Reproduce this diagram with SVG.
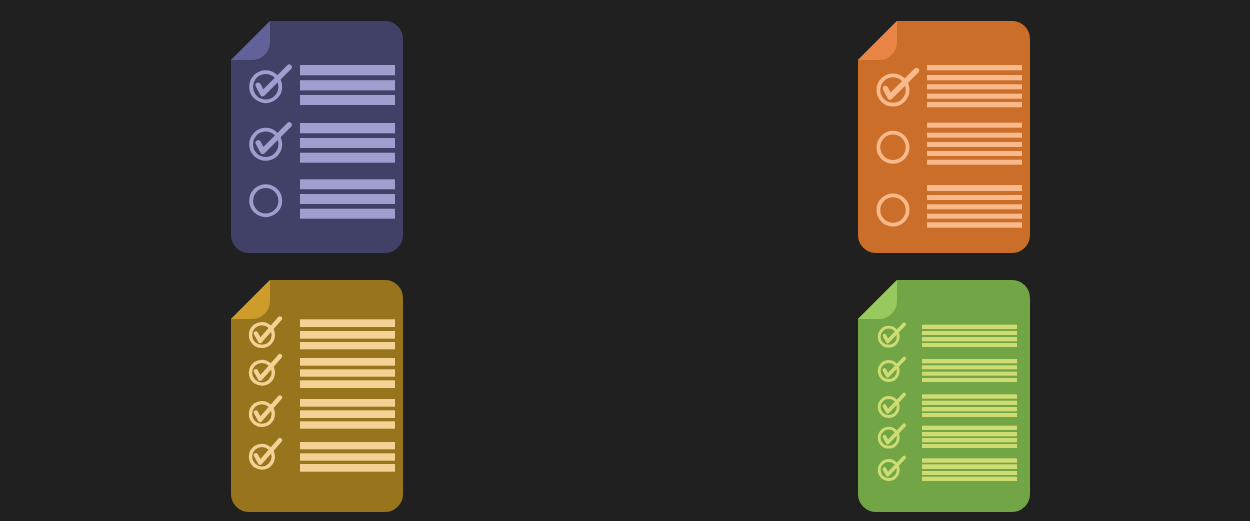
<svg xmlns="http://www.w3.org/2000/svg" width="1250" height="521" viewBox="0 0 1250 521">
<style>
.ring{fill:none;stroke-width:3.8}
.tick{fill:none;stroke-width:5.4;stroke-linecap:round;stroke-linejoin:round}
.p .page{fill:#414066}.p .fold{fill:#62619a}.p .bars{fill:#a09dcf}.p .ring,.p .tick{stroke:#a09dcf}
.o .page{fill:#cb6e29}.o .fold{fill:#e98544}.o .bars{fill:#f9b98a}.o .ring,.o .tick{stroke:#f9b98a}
.y .page{fill:#98751d}.y .fold{fill:#cd9c2a}.y .bars{fill:#f4d295}.y .ring,.y .tick{stroke:#f4d295}
.g .page{fill:#72a545}.g .fold{fill:#98c95f}.g .bars{fill:#cfdc74}.g .ring,.g .tick{stroke:#cfdc74}
.y .ring{stroke-width:3.3}.y .tick{stroke-width:4.4}
.g .ring{stroke-width:2.8}.g .tick{stroke-width:3.6}
</style>
<defs>
<path id="sheet" d="M39 0H154A18 18 0 0 1 172 18V214A18 18 0 0 1 154 232H18A18 18 0 0 1 0 214V39Z"/>
<path id="corner" d="M39 0L0 39H21A18 18 0 0 0 39 21Z"/>
<polyline id="t1" points="-7.5,-1.5 -3,7 23.5,-19.5"/>
<polyline id="t2" points="-6,-1.5 -1.8,6 18,-16.5"/>
<polyline id="t3" points="-4.3,-1 -1,4.8 15.5,-12.5"/>
</defs>
<rect width="1250" height="521" fill="#202020"/>
<g id="checklist-purple" class="p" >
<use class="page" href="#sheet" x="231" y="21"/><use class="fold" href="#corner" x="231" y="21"/>
<circle class="ring" cx="265.7" cy="86.7" r="14.6"/><use class="tick" href="#t1" x="265.7" y="86.7"/>
<circle class="ring" cx="265.7" cy="144.3" r="14.6"/><use class="tick" href="#t1" x="265.7" y="144.3"/>
<circle class="ring" cx="265.7" cy="200.7" r="14.6"/>
<g class="bars">
<rect x="300" y="65" width="95" height="10.3"/><rect x="300" y="80.2" width="95" height="10.2"/><rect x="300" y="95" width="95" height="10"/>
<rect x="300" y="123" width="95" height="10.3"/><rect x="300" y="138" width="95" height="10"/><rect x="300" y="152.7" width="95" height="10"/>
<rect x="300" y="179.3" width="95" height="10"/><rect x="300" y="194" width="95" height="10"/><rect x="300" y="208.7" width="95" height="10"/>
</g>
</g>
<g id="checklist-orange" class="o">
<use class="page" href="#sheet" x="858" y="21"/><use class="fold" href="#corner" x="858" y="21"/>
<circle class="ring" cx="893" cy="90" r="14.6"/><use class="tick" href="#t1" x="893" y="90"/>
<circle class="ring" cx="893" cy="147.3" r="14.6"/>
<circle class="ring" cx="893" cy="210" r="14.6"/>
<g class="bars">
<rect x="927" y="65" width="95" height="5.3"/><rect x="927" y="75" width="95" height="5.3"/><rect x="927" y="84.3" width="95" height="5"/><rect x="927" y="93.7" width="95" height="5"/><rect x="927" y="102" width="95" height="5.3"/>
<rect x="927" y="122.7" width="95" height="5"/><rect x="927" y="132.7" width="95" height="5"/><rect x="927" y="142" width="95" height="5"/><rect x="927" y="151" width="95" height="5"/><rect x="927" y="159.7" width="95" height="5"/>
<rect x="927" y="185" width="95" height="6"/><rect x="927" y="195" width="95" height="5"/><rect x="927" y="204.3" width="95" height="5"/><rect x="927" y="213.7" width="95" height="5"/><rect x="927" y="222.3" width="95" height="5.4"/>
</g>
</g>
<g id="checklist-yellow" class="y">
<use class="page" href="#sheet" x="231" y="280"/><use class="fold" href="#corner" x="231" y="280"/>
<circle class="ring" cx="261.9" cy="335" r="11.4"/><use class="tick" href="#t2" x="261.9" y="335"/>
<circle class="ring" cx="261.9" cy="372.7" r="11.4"/><use class="tick" href="#t2" x="261.9" y="372.7"/>
<circle class="ring" cx="261.9" cy="414" r="11.4"/><use class="tick" href="#t2" x="261.9" y="414"/>
<circle class="ring" cx="261.9" cy="456.7" r="11.4"/><use class="tick" href="#t2" x="261.9" y="456.7"/>
<g class="bars">
<rect x="300" y="319.3" width="95" height="7.7"/><rect x="300" y="331" width="95" height="7.7"/><rect x="300" y="342" width="95" height="7.3"/>
<rect x="300" y="358" width="95" height="7.7"/><rect x="300" y="369.3" width="95" height="7.4"/><rect x="300" y="380.3" width="95" height="7.7"/>
<rect x="300" y="399" width="95" height="7.7"/><rect x="300" y="410.3" width="95" height="7.7"/><rect x="300" y="421.3" width="95" height="7.4"/>
<rect x="300" y="442" width="95" height="7.3"/><rect x="300" y="453.3" width="95" height="7.4"/><rect x="300" y="464" width="95" height="7.7"/>
</g>
</g>
<g id="checklist-green" class="g">
<use class="page" href="#sheet" x="858" y="280"/><use class="fold" href="#corner" x="858" y="280"/>
<circle class="ring" cx="888.7" cy="336.7" r="9.5"/><use class="tick" href="#t3" x="888.7" y="336.7"/>
<circle class="ring" cx="888.7" cy="371" r="9.5"/><use class="tick" href="#t3" x="888.7" y="371"/>
<circle class="ring" cx="888.7" cy="407" r="9.5"/><use class="tick" href="#t3" x="888.7" y="407"/>
<circle class="ring" cx="888.7" cy="437.7" r="9.5"/><use class="tick" href="#t3" x="888.7" y="437.7"/>
<circle class="ring" cx="888.7" cy="470" r="9.5"/><use class="tick" href="#t3" x="888.7" y="470"/>
<g class="bars">
<rect x="922" y="324.7" width="95" height="4.3"/><rect x="922" y="331" width="95" height="4"/><rect x="922" y="337" width="95" height="4.3"/><rect x="922" y="343" width="95" height="4"/>
<rect x="922" y="359" width="95" height="4.3"/><rect x="922" y="365.3" width="95" height="4"/><rect x="922" y="371.7" width="95" height="4"/><rect x="922" y="378" width="95" height="4"/>
<rect x="922" y="394.3" width="95" height="4.4"/><rect x="922" y="400.7" width="95" height="4.3"/><rect x="922" y="407" width="95" height="4.3"/><rect x="922" y="413" width="95" height="4"/>
<rect x="922" y="425.7" width="95" height="4.3"/><rect x="922" y="432" width="95" height="4.3"/><rect x="922" y="438" width="95" height="4.3"/><rect x="922" y="444" width="95" height="4"/>
<rect x="922" y="458.3" width="95" height="4.4"/><rect x="922" y="464.3" width="95" height="4.7"/><rect x="922" y="471" width="95" height="4"/><rect x="922" y="476.7" width="95" height="4.3"/>
</g>
</g>
</svg>
